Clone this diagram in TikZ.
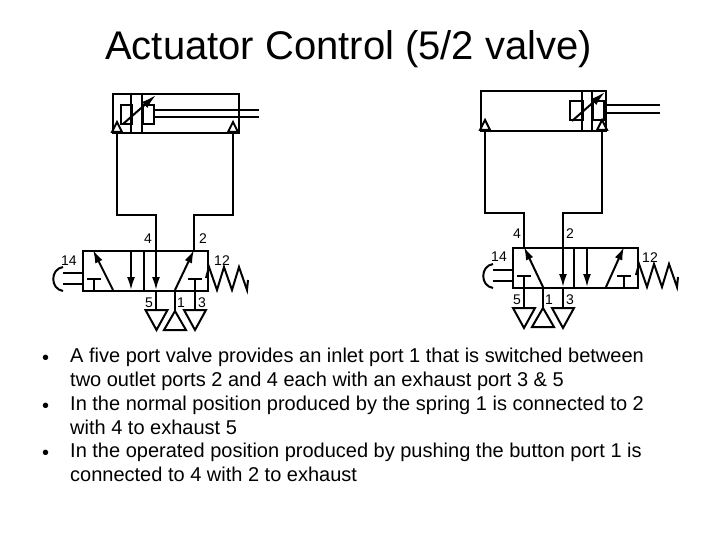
\documentclass[tikz,border=0pt]{standalone}
\usepackage{fontspec}
\setmainfont{Liberation Sans}
\usetikzlibrary{arrows.meta}
% small parts of the valve symbols
\newcommand{\exhaustport}[1]{\draw[part,fill=white] (#1) -- ++(-11,0) -- ++(11,20) -- ++(11,-20) -- cycle;}
\newcommand{\inletport}[1]{\draw[part,fill=white] (#1) -- ++(-11,19) -- ++(22,0) -- cycle;}
\newcommand{\teebar}[1]{\draw[part] (#1) -- ++(0,-11) ++(-7,0) -- ++(14,0);}
\newcommand{\springend}[1]{\draw[part] (#1) -- ++(3,-11) -- ++(8,23) -- ++(7,-23) -- ++(8,23) -- ++(7,-23) -- ++(8,23) -- ++(1,-10);}
\begin{document}
\begin{tikzpicture}[x=1pt,y=-1pt,
part/.style={line width=2pt,line join=miter},
pipe/.style={line width=2pt},
flow/.style={line width=2pt,-{Latex[length=13pt,width=8pt]}},
adjust/.style={line width=2pt,-{Latex[length=15pt,width=8pt]}},
portlabel/.style={font=\fontsize{14}{14}\selectfont,inner sep=0pt},
bullettext/.style={font=\fontsize{20}{24}\selectfont,anchor=north west,align=left,inner sep=0pt},
bulletdot/.style={font=\fontsize{20}{24}\selectfont,anchor=base west,inner sep=0pt},
box/.style={draw,line width=2pt,anchor=north west,inner sep=0pt}]
\useasboundingbox (0,0) rectangle (720,540);
\node (title) [font=\fontsize{40}{40}\selectfont,inner sep=0pt,anchor=base west] at (105,60) {Actuator Control (5/2 valve)};

% left cylinder
\node (cylL) [box,minimum width=126pt,minimum height=39pt] at (112,93) {};
\node (pistonLa) [box,minimum width=11pt,minimum height=19pt] at (120,104) {};
\node (pistonLb) [box,minimum width=11pt,minimum height=19pt] at (142,104) {};
\draw[part] (131,93) -- (131,132) (142,93) -- (142,132);
\draw[part] (153,110) -- (259,110) (153,117) -- (259,117);
\draw[adjust] (123,124) -- (156,95);
\coordinate (cylLa) at (117,132);
\coordinate (cylLb) at (233,132);
\draw[part,fill=white] (cylLa) -- ++(-5,0) -- ++(5,-10) -- ++(5,10) -- cycle;
\draw[part,fill=white] (cylLb) -- ++(-5,0) -- ++(5,-10) -- ++(5,10) -- cycle;

% left valve
\node (valL) [box,minimum width=124.5pt,minimum height=40pt] at (82,250) {};
\draw[part] (144,250) -- (144,290);
\coordinate (valL4) at (156,250);
\coordinate (valL2) at (194,250);
\draw[pipe] (cylLa) -- ++(0,83) -| (valL4);
\draw[pipe] (cylLb) -- ++(0,83) -| (valL2);
\draw[flow] (113,290) -- (93,250);
\teebar{94,290}
\draw[flow] (131,250) -- (131,290);
\draw[flow] (valL4) -- (156,290);
\draw[flow] (175,290) -- (valL2);
\teebar{195,290}
% button
\draw[part] (82,273) -- (63,273) (82,284) -- (63,284);
\draw[part] (63,267) .. controls (50,269) and (50,289) .. (63,291);
\springend{206,278}
\draw[part] (156,290) -- (156,310) (175,290) -- (175,311) (195,279) -- (195,310);
\exhaustport{156.5,310}
\inletport{175,311}
\exhaustport{195,310}
\node (lblL4) [portlabel] at (148,239) {4};
\node (lblL2) [portlabel] at (203,239) {2};
\node (lblL14) [portlabel] at (69,261) {14};
\node (lblL12) [portlabel] at (222,261) {12};
\node (lblL5) [portlabel] at (149,303) {5};
\node (lblL1) [portlabel] at (181,303) {1};
\node (lblL3) [portlabel] at (202,303) {3};

% right cylinder
\node (cylR) [box,minimum width=125pt,minimum height=40pt] at (480,90) {};
\node (pistonRa) [box,minimum width=12.5pt,minimum height=19.5pt] at (569,100) {};
\node (pistonRb) [box,minimum width=11pt,minimum height=19.5pt] at (592,100) {};
\draw[part] (581.5,90) -- (581.5,130) (592,90) -- (592,130);
\draw[part] (603,105) -- (660,105) (603,113) -- (660,113);
\draw[adjust] (572,121) -- (605,92);
\coordinate (cylRa) at (485,130);
\coordinate (cylRb) at (602,130);
\draw[part,fill=white] (cylRa) -- ++(-5,0) -- ++(5,-10) -- ++(5,10) -- cycle;
\draw[part,fill=white] (cylRb) -- ++(-5,0) -- ++(5,-10) -- ++(5,10) -- cycle;

% right valve
\node (valR) [box,minimum width=124.5pt,minimum height=40pt] at (512,247) {};
\draw[part] (574,247) -- (574,287);
\coordinate (valR4) at (524,247);
\coordinate (valR2) at (563,247);
\draw[pipe] (cylRa) -- ++(0,83) -| (valR4);
\draw[pipe] (cylRb) -- ++(0,83) -| (valR2);
\draw[flow] (543,287) -- (valR4);
\draw[part] (524,276) -- (524,308) (517,276) -- (531,276);
\draw[flow] (valR2) -- (563,287);
\draw[flow] (587,247) -- (587,287);
\draw[flow] (606,287) -- (624,247);
\teebar{624,287}
% button
\draw[part] (512,270) -- (493,270) (512,281) -- (493,281);
\draw[part] (493,264) .. controls (480,266) and (480,286) .. (493,288);
\springend{636,275}
\draw[part] (543,287) -- (543,308) (563,287) -- (563,308);
\exhaustport{524,308}
\inletport{543,308}
\exhaustport{563,308}
\node (lblR4) [portlabel] at (517,234) {4};
\node (lblR2) [portlabel] at (570,234) {2};
\node (lblR14) [portlabel] at (499,257) {14};
\node (lblR12) [portlabel] at (650,258) {12};
\node (lblR5) [portlabel] at (517,300) {5};
\node (lblR1) [portlabel] at (549,300) {1};
\node (lblR3) [portlabel] at (570,300) {3};

% bullet points
\node (dotA) [bulletdot] at (42,364) {•};
\node (textA) [bullettext] at (70,348) {A five port valve provides an inlet port 1 that is switched between\\two outlet ports 2 and 4 each with an exhaust port 3 \& 5};
\node (dotB) [bulletdot] at (42,412) {•};
\node (textB) [bullettext] at (70,396) {In the normal position produced by the spring 1 is connected to 2\\with 4 to exhaust 5};
\node (dotC) [bulletdot] at (42,459) {•};
\node (textC) [bullettext] at (70,443) {In the operated position produced by pushing the button port 1 is\\connected to 4 with 2 to exhaust};
\end{tikzpicture}
\end{document}
